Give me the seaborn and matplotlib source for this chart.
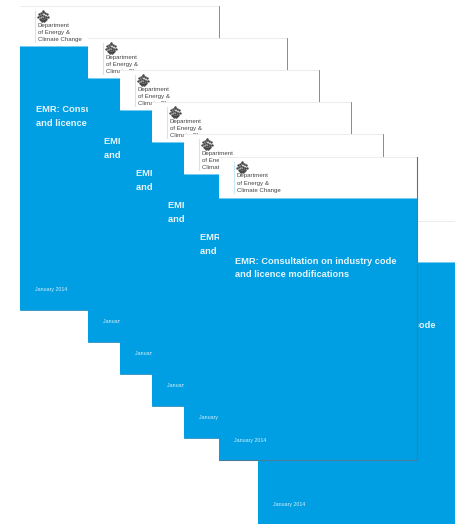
import pandas as pd
import matplotlib.pyplot as plt
import seaborn as sns

# stacked report covers, back to front (pixel coordinates of the picture)
PAGE_LEFT = [258, 20, 88, 120, 152, 184, 219]
PAGE_RIGHT = [456, 219, 287, 319, 351, 383, 417.5]
PAGE_TOP = [221, 6, 38, 70, 102, 134, 157]
PAGE_BOTTOM = [524, 310, 342, 374, 406, 438, 460]
HEADER_H = [41, 40, 40, 40, 40, 40, 41]

DEPT = "Department\nof Energy &\nClimate Change"
TITLE = "EMR: Consultation on industry code\nand licence modifications"
DATE = "January 2014"

# rough shape of the crest, offsets from the page corner
CREST_X = [19, 21, 23, 25, 27, 18.5, 20.5, 22.5, 24.5, 26.5, 28, 20, 22, 24, 26, 21, 23, 25, 22, 24, 23]
CREST_Y = [8, 7, 6, 7, 8, 10.5, 9.5, 9, 9.5, 10.5, 11, 12.5, 12, 12, 12.5, 14, 14, 14, 15, 15, 5]

BLUE = "#009FE3"
FONT = "Liberation Sans"

sns.set_theme(style="white")
plt.rcParams["font.family"] = [FONT, "DejaVu Sans"]

fig = plt.figure(figsize=(4.56, 5.24), dpi=100)
ax = fig.add_axes([0, 0, 1, 1])

for i, (left, right, top, bottom, head) in enumerate(
        zip(PAGE_LEFT, PAGE_RIGHT, PAGE_TOP, PAGE_BOTTOM, HEADER_H)):
    z = 10 + i * 10
    width = right - left
    ax.bar(left, head, width=width, bottom=top, align="edge", color="white", lw=0, zorder=z)
    ax.bar(left, bottom - top - head, width=width, bottom=top + head, align="edge",
           color=BLUE, lw=0, zorder=z)

    # page edges
    ax.plot([left, right], [top, top], color="#ececec", lw=0.7, zorder=z + 1)
    ax.plot([left, right], [top + head, top + head], color="#8fd6f4", lw=0.6, zorder=z + 1)
    if i > 0:
        ax.plot([right, right], [top, top + head], color="#8a8a8a", lw=0.7, zorder=z + 1)
        ax.plot([left, right], [bottom, bottom], color="#1d86ba", lw=0.6, zorder=z + 1)
    if i == len(PAGE_LEFT) - 1:
        ax.plot([right, right], [top, bottom], color="#5a7486", lw=0.8, zorder=z + 1)
        ax.plot([left, right], [bottom, bottom], color="#4a7c9b", lw=0.8, zorder=z + 1)

    # logo block
    ax.plot([left + 15.5, left + 15.5], [top + 5, top + 36], color="#c4eaf8", lw=0.8, zorder=z + 2)
    crest = pd.DataFrame({"x": [left + v for v in CREST_X], "y": [top + v for v in CREST_Y]})
    sns.scatterplot(data=crest, x="x", y="y", ax=ax, color="#444444", s=3, linewidth=0,
                    zorder=z + 2, legend=False)
    ax.text(left + 18, top + 16.5, DEPT, fontsize=4.4, color="#444444", va="top", ha="left",
            linespacing=1.6, zorder=z + 2)

    # cover text
    ax.text(left + 16, top + 99.5, TITLE, fontsize=6.7, fontweight="bold", color="#e6f6fd",
            va="top", ha="left", linespacing=1.65, zorder=z + 2)
    ax.text(left + 15.5, top + 283.5, DATE, fontsize=3.75, color="#d5effa", va="center", ha="left",
            zorder=z + 2)

ax.set_xlim(0, 456)
ax.set_ylim(524, 0)
ax.set_xlabel("")
ax.set_ylabel("")
ax.set_xticks([])
ax.set_yticks([])
sns.despine(ax=ax, left=True, bottom=True)

fig.savefig("out.png", dpi=100, facecolor="white")
plt.close(fig)
